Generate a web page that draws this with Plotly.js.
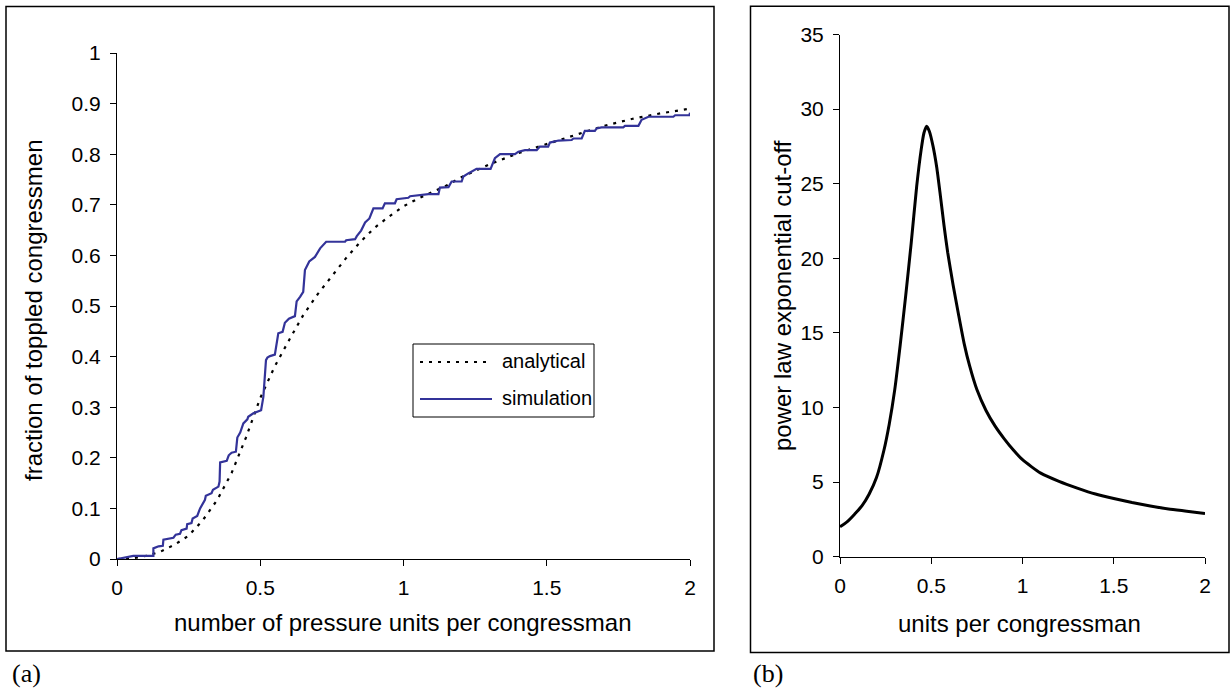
<!DOCTYPE html>
<html>
<head>
<meta charset="utf-8">
<script src="https://cdn.plot.ly/plotly-3.0.1.min.js"></script>
<style>html,body{margin:0;padding:0;background:#fff;}#chart{width:1230px;height:688px;}</style>
</head>
<body>
<div id="chart"></div>
<script>
// ---------- Data: panel (a) ----------
const analyticalX = [0, 0.05, 0.1, 0.15, 0.2, 0.25, 0.3, 0.35, 0.4, 0.45, 0.5, 0.55, 0.6, 0.65, 0.7, 0.75, 0.8, 0.85, 0.9, 0.95, 1.0, 1.05, 1.1, 1.15, 1.2, 1.3, 1.4, 1.5, 1.6, 1.7, 1.8, 1.9, 2.0];
const analyticalY = [0, 0.001, 0.006, 0.014, 0.028, 0.046, 0.077, 0.117, 0.17, 0.24, 0.318, 0.38, 0.432, 0.482, 0.523, 0.56, 0.595, 0.627, 0.655, 0.677, 0.697, 0.712, 0.725, 0.738, 0.754, 0.78, 0.802, 0.82, 0.838, 0.856, 0.87, 0.881, 0.89];

const simulationX = [0, 0.02, 0.057, 0.127, 0.127, 0.145, 0.16, 0.162, 0.197, 0.205, 0.22, 0.225, 0.243, 0.245, 0.26, 0.264, 0.28, 0.29, 0.307, 0.31, 0.33, 0.335, 0.354, 0.358, 0.36, 0.383, 0.39, 0.4, 0.415, 0.42, 0.43, 0.441, 0.455, 0.458, 0.476, 0.503, 0.511, 0.52, 0.525, 0.534, 0.551, 0.563, 0.578, 0.586, 0.6, 0.621, 0.627, 0.639, 0.65, 0.656, 0.671, 0.691, 0.709, 0.73, 0.796, 0.8, 0.831, 0.837, 0.852, 0.866, 0.881, 0.895, 0.927, 0.935, 0.97, 0.976, 1.017, 1.023, 1.052, 1.087, 1.122, 1.127, 1.157, 1.168, 1.203, 1.209, 1.226, 1.255, 1.304, 1.319, 1.337, 1.389, 1.401, 1.424, 1.465, 1.476, 1.505, 1.511, 1.541, 1.587, 1.593, 1.622, 1.633, 1.668, 1.674, 1.691, 1.767, 1.773, 1.82, 1.831, 1.855, 1.942, 1.948, 1.998, 2.0];
const simulationY = [0, 0.002, 0.006, 0.006, 0.021, 0.025, 0.026, 0.038, 0.042, 0.048, 0.05, 0.057, 0.06, 0.069, 0.071, 0.08, 0.085, 0.1, 0.117, 0.125, 0.13, 0.137, 0.143, 0.153, 0.191, 0.194, 0.205, 0.21, 0.212, 0.24, 0.25, 0.268, 0.276, 0.281, 0.288, 0.294, 0.321, 0.393, 0.398, 0.401, 0.404, 0.446, 0.449, 0.467, 0.475, 0.48, 0.509, 0.518, 0.528, 0.571, 0.588, 0.597, 0.614, 0.627, 0.627, 0.63, 0.632, 0.638, 0.649, 0.665, 0.673, 0.693, 0.693, 0.703, 0.703, 0.711, 0.714, 0.717, 0.719, 0.721, 0.721, 0.734, 0.735, 0.746, 0.746, 0.756, 0.762, 0.771, 0.771, 0.792, 0.8, 0.8, 0.805, 0.808, 0.808, 0.815, 0.815, 0.823, 0.827, 0.828, 0.831, 0.831, 0.846, 0.846, 0.851, 0.853, 0.853, 0.856, 0.856, 0.868, 0.874, 0.874, 0.877, 0.877, 0.882];

const xTicksA = [0, 0.5, 1, 1.5, 2];
const xTickLabelsA = ["0", "0.5", "1", "1.5", "2"];
const yTicksA = [0, 0.1, 0.2, 0.3, 0.4, 0.5, 0.6, 0.7, 0.8, 0.9, 1];
const yTickLabelsA = ["0", "0.1", "0.2", "0.3", "0.4", "0.5", "0.6", "0.7", "0.8", "0.9", "1"];

// ---------- Data: panel (b) ----------
const cutoffX = [0, 0.04, 0.08, 0.12, 0.16, 0.2, 0.24, 0.27, 0.3, 0.33, 0.36, 0.39, 0.42, 0.445, 0.46, 0.475, 0.49, 0.51, 0.53, 0.55, 0.57, 0.59, 0.62, 0.65, 0.68, 0.71, 0.75, 0.8, 0.85, 0.9, 0.95, 1.0, 1.1, 1.2, 1.3, 1.4, 1.5, 1.6, 1.7, 1.8, 1.9, 2.0];
const cutoffY = [2.0, 2.35, 2.85, 3.4, 4.2, 5.3, 7.1, 8.9, 11.2, 14.2, 17.5, 21.0, 24.8, 27.3, 28.4, 28.85, 28.5, 27.5, 26.1, 24.2, 22.2, 20.4, 18.2, 16.2, 14.3, 12.8, 11.2, 9.8, 8.75, 7.9, 7.15, 6.5, 5.6, 5.05, 4.6, 4.2, 3.9, 3.63, 3.4, 3.2, 3.05, 2.9];

const xTicksB = [0, 0.5, 1, 1.5, 2];
const xTickLabelsB = ["0", "0.5", "1", "1.5", "2"];
const yTicksB = [0, 5, 10, 15, 20, 25, 30, 35];
const yTickLabelsB = ["0", "5", "10", "15", "20", "25", "30", "35"];

const seriesNames = ["analytical", "simulation"];
const titleXA = "number of pressure units per congressman";
const titleYA = "fraction of toppled congressmen";
const titleXB = "units per congressman";
const titleYB = "power law exponential cut-off";

// ---------- Layout helpers ----------
const W = 1230, H = 688;
const px = v => v / W;
const py = v => 1 - v / H;
const SANS = "Liberation Sans, Arial, sans-serif";
const SERIF = "Liberation Serif, Times New Roman, serif";
const BLUE = "#333399";
const DOTS = "3px,6px";

const traces = [
  {x: analyticalX, y: analyticalY, xaxis: "x", yaxis: "y", mode: "lines", name: seriesNames[0],
   line: {color: "#000", width: 2.2, dash: DOTS}, showlegend: false, hoverinfo: "skip"},
  {x: simulationX, y: simulationY, xaxis: "x", yaxis: "y", mode: "lines", name: seriesNames[1],
   line: {color: BLUE, width: 2.2}, showlegend: false, hoverinfo: "skip"},
  {x: cutoffX, y: cutoffY, xaxis: "x2", yaxis: "y2", mode: "lines", name: "cut-off",
   line: {color: "#000", width: 3, shape: "spline", smoothing: 0.6}, showlegend: false, hoverinfo: "skip"}
];

const axisCommon = {
  showgrid: false, zeroline: false, showline: true, linecolor: "#000", linewidth: 1,
  ticks: "outside", ticklen: 6, tickwidth: 1, tickcolor: "#000",
  tickfont: {family: SANS, size: 21, color: "#000"}, tickmode: "array", fixedrange: true
};

const layout = {
  width: W, height: H,
  margin: {l: 0, r: 0, t: 0, b: 0},
  paper_bgcolor: "#fff", plot_bgcolor: "#fff",
  showlegend: false,
  xaxis: Object.assign({}, axisCommon, {domain: [px(117), px(690)], range: [0, 2], anchor: "y",
    tickvals: xTicksA, ticktext: xTickLabelsA, ticklabelstandoff: 4}),
  yaxis: Object.assign({}, axisCommon, {domain: [py(559), py(53)], range: [0, 1], anchor: "x",
    tickvals: yTicksA, ticktext: yTickLabelsA, ticklabelstandoff: 5}),
  xaxis2: Object.assign({}, axisCommon, {domain: [px(840), px(1205)], range: [0, 2], anchor: "y2",
    tickvals: xTicksB, ticktext: xTickLabelsB, ticklabelstandoff: 4}),
  yaxis2: Object.assign({}, axisCommon, {domain: [py(556.7), py(34.5)], range: [0, 35], anchor: "x2",
    tickvals: yTicksB, ticktext: yTickLabelsB, ticklabelstandoff: 5}),
  shapes: [
    // panel frames
    {type: "rect", xref: "paper", yref: "paper", x0: px(6), x1: px(714), y0: py(651), y1: py(6.5),
     line: {color: "#000", width: 1.5}},
    {type: "rect", xref: "paper", yref: "paper", x0: px(750.5), x1: px(1229), y0: py(652.5), y1: py(6.3),
     line: {color: "#000", width: 1.5}},
    // legend box
    {type: "rect", xref: "paper", yref: "paper", x0: px(413), x1: px(594), y0: py(417), y1: py(344),
     line: {color: "#000", width: 1}, fillcolor: "#fff"},
    {type: "line", xref: "paper", yref: "paper", x0: px(420), x1: px(491), y0: py(362), y1: py(362),
     line: {color: "#000", width: 2, dash: DOTS}},
    {type: "line", xref: "paper", yref: "paper", x0: px(420), x1: px(492), y0: py(399), y1: py(399),
     line: {color: BLUE, width: 2}}
  ],
  annotations: [
    {text: seriesNames[0], xref: "paper", yref: "paper", x: px(500), y: py(361), xanchor: "left", yanchor: "middle",
     showarrow: false, font: {family: SANS, size: 20, color: "#000"}},
    {text: seriesNames[1], xref: "paper", yref: "paper", x: px(500), y: py(398), xanchor: "left", yanchor: "middle",
     showarrow: false, font: {family: SANS, size: 20, color: "#000"}},
    {text: titleYA, xref: "paper", yref: "paper", x: px(33), y: py(310), xanchor: "center", yanchor: "middle",
     textangle: -90, showarrow: false, font: {family: SANS, size: 24, color: "#000"}},
    {text: titleXA, xref: "paper", yref: "paper", x: px(403), y: py(622), xanchor: "center", yanchor: "middle",
     showarrow: false, font: {family: SANS, size: 24, color: "#000"}},
    {text: titleYB, xref: "paper", yref: "paper", x: px(782), y: py(296), xanchor: "center", yanchor: "middle",
     textangle: -90, showarrow: false, font: {family: SANS, size: 24, color: "#000"}},
    {text: titleXB, xref: "paper", yref: "paper", x: px(1019), y: py(623), xanchor: "center", yanchor: "middle",
     showarrow: false, font: {family: SANS, size: 24, color: "#000"}},
    {text: "(a)", xref: "paper", yref: "paper", x: px(10), y: py(673), xanchor: "left", yanchor: "middle",
     showarrow: false, font: {family: SERIF, size: 26, color: "#000"}},
    {text: "(b)", xref: "paper", yref: "paper", x: px(751), y: py(673), xanchor: "left", yanchor: "middle",
     showarrow: false, font: {family: SERIF, size: 26, color: "#000"}}
  ]
};

Plotly.newPlot("chart", traces, layout, {staticPlot: true, displayModeBar: false});
</script>
</body>
</html>
